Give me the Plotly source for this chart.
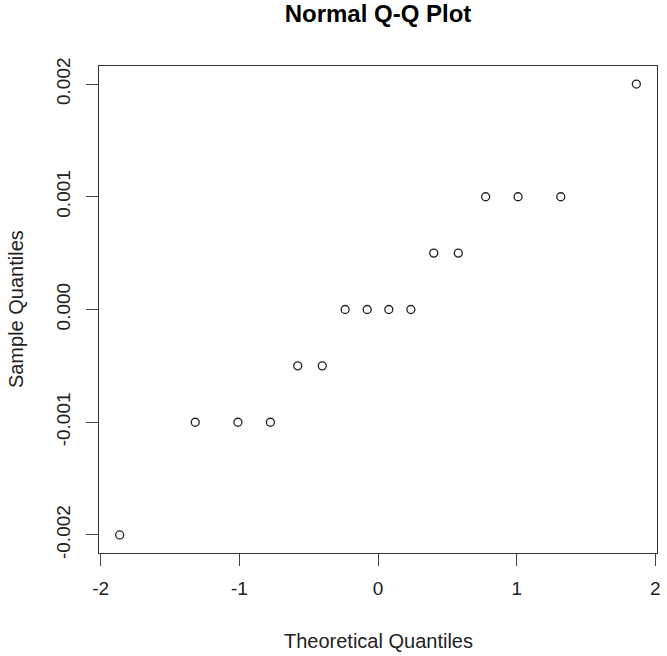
import plotly.graph_objects as go

theoretical = [-1.863, -1.318, -1.010, -0.776, -0.579, -0.402, -0.237, -0.078,
               0.078, 0.237, 0.402, 0.579, 0.776, 1.010, 1.318, 1.863]
sample = [-0.002, -0.001, -0.001, -0.001, -0.0005, -0.0005, 0.0, 0.0,
          0.0, 0.0, 0.0005, 0.0005, 0.001, 0.001, 0.001, 0.002]

x_ticks = [-2, -1, 0, 1, 2]
x_ticktext = ["-2", "-1", "0", "1", "2"]
y_ticks = [-0.002, -0.001, 0.0, 0.001, 0.002]
y_ticktext = ["-0.002", "-0.001", "0.000", "0.001", "0.002"]

FONT = "Liberation Sans, Arial, sans-serif"
TXT = "#222222"

fig = go.Figure()
fig.add_trace(go.Scatter(
    x=theoretical, y=sample, mode="markers",
    marker=dict(symbol="circle-open", size=8, color="#222222",
                line=dict(width=1.3, color="#222222")),
    showlegend=False, hoverinfo="x+y",
))

W, H = 667, 656
L, R, T, B = 99, 6, 66, 103

fig.update_layout(
    width=W, height=H,
    margin=dict(l=L, r=R, t=T, b=B, pad=0),
    paper_bgcolor="white", plot_bgcolor="white",
    font=dict(family=FONT, size=17, color=TXT),
    title=dict(text="<b>Normal Q-Q Plot</b>", x=0.5, xanchor="center",
               xref="paper", yref="container", y=1 - 14 / H, yanchor="middle",
               font=dict(family=FONT, size=24, color="#000000")),
    xaxis=dict(range=[-2.012, 2.012], tickvals=x_ticks, ticktext=x_ticktext,
               showgrid=False, zeroline=False, showline=True, mirror=True,
               linecolor="#333333", linewidth=1.3,
               ticks="outside", ticklen=12, tickwidth=1.3, tickcolor="#444444",
               ticklabelstandoff=6,
               tickfont=dict(family=FONT, size=19, color=TXT)),
    yaxis=dict(range=[-0.00216, 0.00216], tickvals=y_ticks, ticktext=y_ticktext,
               showgrid=False, zeroline=False, showline=True, mirror=True,
               linecolor="#333333", linewidth=1.3,
               ticks="outside", ticklen=12, tickwidth=1.3, tickcolor="#444444",
               tickangle=-90, ticklabelstandoff=8,
               tickfont=dict(family=FONT, size=19, color=TXT)),
    annotations=[
        dict(text="Theoretical Quantiles", xref="paper", yref="paper",
             x=0.5, y=-(641 - 553) / (H - T - B), xanchor="center", yanchor="middle",
             showarrow=False, font=dict(family=FONT, size=20, color=TXT)),
        dict(text="Sample Quantiles", xref="paper", yref="paper",
             x=-(99 - 15) / (W - L - R), y=0.5, xanchor="center", yanchor="middle",
             textangle=-90, showarrow=False,
             font=dict(family=FONT, size=20, color=TXT)),
    ],
)

fig.write_html("out.html")
